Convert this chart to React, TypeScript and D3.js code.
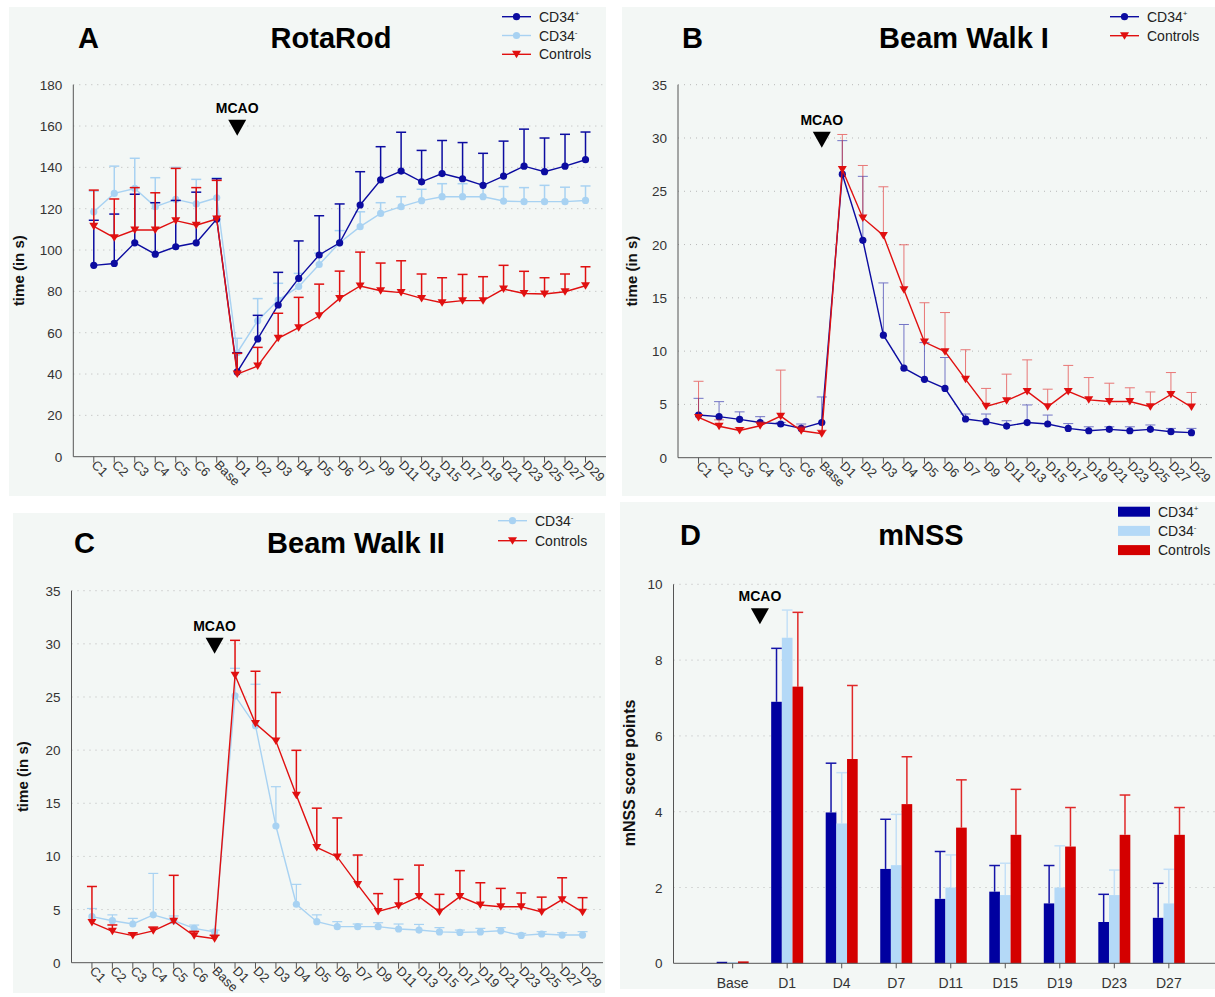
import React from 'react';
import * as d3 from 'd3';

// ---- data ----
const timepoints = ["C1", "C2", "C3", "C4", "C5", "C6", "Base", "D1", "D2", "D3", "D4", "D5", "D6", "D7", "D9", "D11", "D13", "D15", "D17", "D19", "D21", "D23", "D25", "D27", "D29"];

// RotaRod (s)
const rotaPosMean = [92.6, 93.5, 103.5, 98, 101.6, 103.5, 115, 41, 57, 73.4, 86.3, 97.6, 103.5, 121.8, 133.9, 138.2, 133, 137, 134.5, 131.3, 135.8, 140.6, 137.9, 140.6, 143.7];
const rotaPosSD = [21.8, 23.9, 23.5, 24.9, 22.4, 24.5, 19.5, 9.3, 11.4, 15.8, 18.1, 19, 18.8, 16.1, 16.1, 18.8, 15.2, 16, 17.5, 15.5, 16.9, 17.9, 16.3, 15.4, 13.4];
const rotaNegMean = [118.5, 127.4, 129.8, 121, 124.5, 122.3, 125.3, 50.3, 65.8, 75.8, 82.3, 93, 103.5, 111.3, 117.7, 121, 123.9, 125.8, 125.8, 125.8, 123.7, 123.4, 123.4, 123.4, 124];
const rotaNegSD = [10, 13.2, 14.6, 14, 15.5, 11.9, 9.7, 7, 10.7, 8.1, 6.4, 5.5, 5.9, 7.2, 5.2, 4.8, 5.5, 6.3, 6.3, 6.3, 7, 6.8, 7.9, 7, 7];
const rotaCtrlMean = [111.5, 106, 109.7, 109.7, 114.2, 112, 115, 40, 43.9, 57.3, 62.4, 68.2, 76.6, 82.6, 80.3, 79.4, 76.6, 74.5, 75.5, 75.5, 81.1, 79, 78.7, 79.8, 82.7];
const rotaCtrlSD = [17.5, 18.7, 20.5, 18, 25.3, 18.2, 18.7, 10, 9, 12.1, 14.7, 15.3, 13.2, 16.4, 13.4, 15.4, 11.8, 12.1, 12.7, 11.6, 11.5, 10.7, 7.9, 8.6, 9.2];

// Beam Walk I (s)
const beamPosMean = [4.0, 3.85, 3.6, 3.3, 3.16, 2.75, 3.3, 26.6, 20.4, 11.5, 8.4, 7.35, 6.5, 3.63, 3.38, 2.97, 3.3, 3.16, 2.75, 2.53, 2.66, 2.53, 2.66, 2.44, 2.35];
const beamPosSD = [1.57, 1.41, 0.7, 0.55, 0.15, 0.41, 2.4, 3.15, 6.0, 4.9, 4.1, 3.45, 2.9, 0.47, 0.72, 0.5, 1.65, 0.84, 0.45, 0.37, 0.24, 0.37, 0.41, 0.31, 0.4];
// Beam Walk II (s)
const beamNegMean = [4.33, 3.95, 3.64, 4.5, 3.95, 3.23, 2.9, 25.1, 22.3, 12.86, 5.5, 3.86, 3.39, 3.39, 3.39, 3.17, 3.07, 2.9, 2.85, 2.9, 3.0, 2.57, 2.7, 2.6, 2.6];
const beamNegSD = [0.77, 0.55, 0.53, 3.9, 0.45, 0.31, 0.17, 2.6, 3.9, 3.7, 1.87, 0.64, 0.47, 0.25, 0.37, 0.47, 0.53, 0.4, 0.22, 0.33, 0.3, 0.19, 0.22, 0.22, 0.32];
// controls, shown in both beam walk panels
const beamCtrlMean = [3.78, 2.95, 2.55, 3.0, 3.9, 2.53, 2.25, 27.05, 22.5, 20.85, 15.75, 10.85, 9.95, 7.35, 4.82, 5.35, 6.22, 4.78, 6.22, 5.43, 5.27, 5.27, 4.78, 5.93, 4.75];
const beamCtrlSD = [3.39, 0.6, 0.25, 0.35, 4.32, 0.42, 0.33, 3.28, 4.92, 4.57, 4.23, 3.69, 3.67, 2.78, 1.68, 2.49, 2.96, 1.65, 2.44, 2.09, 1.72, 1.29, 1.39, 2.06, 1.37];

// mNSS
const mnssDays = ["Base", "D1", "D4", "D7", "D11", "D15", "D19", "D23", "D27"];
const mnssPos = [0.04, 6.9, 3.98, 2.49, 1.7, 1.89, 1.58, 1.09, 1.2];
const mnssPosSD = [0, 1.41, 1.3, 1.31, 1.25, 0.69, 1.0, 0.73, 0.91];
const mnssNeg = [0.03, 8.59, 3.69, 2.59, 2.0, 1.8, 2.0, 1.8, 1.58];
const mnssNegSD = [0, 0.73, 1.34, 1.34, 0.86, 0.84, 1.1, 0.66, 0.9];
const mnssCtrl = [0.05, 7.3, 5.39, 4.2, 3.58, 3.39, 3.08, 3.39, 3.39];
const mnssCtrlSD = [0, 1.96, 1.94, 1.25, 1.26, 1.2, 1.03, 1.05, 0.72];

const FONT = "'Liberation Sans', Arial, Helvetica, sans-serif";
const BG = "#f3f7f5";
const DARK = "#0c0ca0";
const LIGHT = "#a8d2f2";
const RED = "#e01010";

const Mcao = ({ cx, ty }) => (
  <g>
    <text x={cx} y={ty} textAnchor="middle" fontFamily={FONT} fontWeight="bold" fontSize={14} fill="#000">MCAO</text>
    <path d={`M${cx - 9},${ty + 7} L${cx + 9},${ty + 7} L${cx},${ty + 23} Z`} fill="#000" />
  </g>
);

const Label = ({ name, sup, x, y }) => (
  <text x={x} y={y + 5} fontFamily={FONT} fontSize={14} fill="#222">
    {name}
    {sup ? <tspan dy={-6} fontSize={8}>{sup}</tspan> : null}
  </text>
);

const marker = (kind, color, cx, cy, key) =>
  kind === 'circle'
    ? <circle key={key} cx={cx} cy={cy} r={3.6} fill={color} />
    : <path key={key} d={`M${cx - 4.5},${cy - 3.5} L${cx + 4.5},${cy - 3.5} L${cx},${cy + 4} Z`} fill={color} />;

function LinePanel({ box, x0, x1, yTop, yBottom, yMax, yStep, letter, letterX, title, titleX, titleY, series, legend, mcaoAt, mcaoY, yTitleX, errOpacity }) {
  const x = d3.scalePoint().domain(timepoints).range([x0, x1]).padding(1);
  const y = d3.scaleLinear().domain([0, yMax]).range([yBottom, yTop]);
  const ticks = d3.range(0, yMax + 0.001, yStep);
  const line = d3.line<number>().x((d, i) => x(timepoints[i])).y(d => y(d));
  return (
    <g>
      <rect x={box[0]} y={box[1]} width={box[2] - box[0]} height={box[3] - box[1]} fill={BG} />
      {ticks.filter(t => t > 0).map(t => (
        <line key={t} x1={x0} x2={x1} y1={y(t)} y2={y(t)} stroke="#b8b8b8" strokeWidth={1} strokeDasharray="1,5" />
      ))}
      {ticks.map(t => (
        <text key={t} x={x0 - 11} y={y(t) + 5} textAnchor="end" fontFamily={FONT} fontSize={13.5} fill="#333">{t}</text>
      ))}
      <line x1={x0} x2={x0} y1={yTop} y2={yBottom} stroke="#555" />
      <line x1={x0} x2={x1} y1={yBottom} y2={yBottom} stroke="#555" />
      {timepoints.map(t => (
        <g key={t}>
          <line x1={x(t)} x2={x(t)} y1={yBottom} y2={yBottom + 6} stroke="#555" />
          <text transform={`translate(${x(t) - 3},${yBottom + 9}) rotate(45)`} fontFamily={FONT} fontSize={13} fill="#333">{t}</text>
        </g>
      ))}
      {series.map(s => (
        <g key={s.name + s.sup}>
          {s.mean.map((m, i) => {
            const cx = x(timepoints[i]);
            const top = y(m + s.sd[i]);
            return (
              <g key={i} stroke={s.color} strokeWidth={s.errWidth} opacity={errOpacity}>
                <line x1={cx} x2={cx} y1={y(m)} y2={top} />
                <line x1={cx - 5} x2={cx + 5} y1={top} y2={top} />
              </g>
            );
          })}
          <path d={line(s.mean)} fill="none" stroke={s.color} strokeWidth={1.4} />
          {s.mean.map((m, i) => marker(s.marker, s.color, x(timepoints[i]), y(m), i))}
        </g>
      ))}
      <Mcao cx={x(mcaoAt)} ty={yTop + mcaoY} />
      <text x={letterX} y={titleY} fontFamily={FONT} fontWeight="bold" fontSize={29} fill="#000">{letter}</text>
      <text x={titleX} y={titleY} textAnchor="middle" fontFamily={FONT} fontWeight="bold" fontSize={29} fill="#000">{title}</text>
      <text transform={`translate(${yTitleX},${(yTop + yBottom) / 2}) rotate(-90)`} textAnchor="middle" fontFamily={FONT} fontWeight="bold" fontSize={15} fill="#111">time (in s)</text>
      {series.map((s, i) => {
        const ly = legend.y0 + s.lg * legend.dy;
        return (
          <g key={'lg' + i}>
            <line x1={legend.x} x2={legend.x + 29} y1={ly} y2={ly} stroke={s.color} strokeWidth={1.4} />
            {marker(s.marker, s.color, legend.x + 14.5, ly, 'm')}
            <Label name={s.name} sup={s.sup} x={legend.x + 37} y={ly} />
          </g>
        );
      })}
    </g>
  );
}

function BarPanel() {
  const x0 = 673.5, x1 = 1228, yTop = 584.3, yBottom = 963.3;
  const x = d3.scaleBand().domain(mnssDays).range([x0, x1]).paddingInner(0).paddingOuter(0.585);
  const y = d3.scaleLinear().domain([0, 10]).range([yBottom, yTop]);
  const groups = [
    { name: 'CD34', sup: '+', color: '#0000a0', err: '#1414a8', vals: mnssPos, sd: mnssPosSD },
    { name: 'CD34', sup: '-', color: '#b4d9f7', err: '#c4e0f7', vals: mnssNeg, sd: mnssNegSD },
    { name: 'Controls', sup: '', color: '#d40000', err: '#e02828', vals: mnssCtrl, sd: mnssCtrlSD },
  ];
  const inner = d3.scaleBand().domain(['0', '1', '2']).range([0, 32]);
  const ticks = d3.range(0, 10.001, 2);
  return (
    <g>
      <rect x={620} y={502} width={595} height={487} fill={BG} />
      {ticks.filter(t => t > 0).map(t => (
        <line key={t} x1={x0} x2={1215} y1={y(t)} y2={y(t)} stroke="#b8b8b8" strokeDasharray="1,5" />
      ))}
      {ticks.map(t => (
        <text key={t} x={x0 - 11} y={y(t) + 5} textAnchor="end" fontFamily={FONT} fontSize={13.5} fill="#333">{t}</text>
      ))}
      {mnssDays.map((d, i) => {
        const gx = x(d) + (x.bandwidth() - 32) / 2;
        return (
          <g key={d}>
            {groups.map((g, j) => {
              const bx = gx + inner(String(j));
              const bw = inner.bandwidth();
              const top = y(g.vals[i]);
              const et = y(g.vals[i] + g.sd[i]);
              return (
                <g key={j}>
                  {g.sd[i] > 0 && (
                    <g stroke={g.err} strokeWidth={1.5}>
                      <line x1={bx + bw / 2} x2={bx + bw / 2} y1={top} y2={et} />
                      <line x1={bx} x2={bx + bw} y1={et} y2={et} />
                    </g>
                  )}
                  <rect x={bx} y={top} width={bw} height={yBottom - top} fill={g.color} />
                </g>
              );
            })}
            <line x1={x(d) + x.bandwidth() / 2} x2={x(d) + x.bandwidth() / 2} y1={yBottom} y2={yBottom + 5} stroke="#555" />
            <text x={x(d) + x.bandwidth() / 2} y={988} textAnchor="middle" fontFamily={FONT} fontSize={14} fill="#333">{d}</text>
          </g>
        );
      })}
      <line x1={x0} x2={x0} y1={yTop} y2={yBottom} stroke="#555" />
      <line x1={x0} x2={1215} y1={yBottom} y2={yBottom} stroke="#555" />
      <Mcao cx={(x('Base') + x('D1')) / 2 + x.bandwidth() / 2} ty={yTop + 17} />
      <text x={680} y={545} fontFamily={FONT} fontWeight="bold" fontSize={29} fill="#000">D</text>
      <text x={921} y={545} textAnchor="middle" fontFamily={FONT} fontWeight="bold" fontSize={29} fill="#000">mNSS</text>
      <text transform={`translate(${635},${773}) rotate(-90)`} textAnchor="middle" fontFamily={FONT} fontWeight="bold" fontSize={16} fill="#111">mNSS score points</text>
      {groups.map((g, i) => {
        const ly = 511.7 + i * 19.2;
        return (
          <g key={'lg' + i}>
            <rect x={1118} y={ly - 5} width={32} height={10} fill={g.color} />
            <Label name={g.name} sup={g.sup} x={1158} y={ly} />
          </g>
        );
      })}
    </g>
  );
}

export default function App() {
  const pos = { name: 'CD34', sup: '+', color: DARK, marker: 'circle', errWidth: 1.5 };
  const neg = { name: 'CD34', sup: '-', color: LIGHT, marker: 'circle', errWidth: 1.5 };
  const ctrl = { name: 'Controls', sup: '', color: RED, marker: 'tri', errWidth: 1.5 };
  return (
    <svg width={1215} height={997} style={{ position: 'absolute', left: 0, top: 0, background: '#fff' }}>
      <LinePanel
        box={[9, 7, 606, 496]} x0={73.3} x1={606} yTop={84.7} yBottom={456.7} yMax={180} yStep={20}
        letter="A" letterX={78} title="RotaRod" titleX={331} titleY={48}
        series={[{ ...neg, lg: 1, mean: rotaNegMean, sd: rotaNegSD }, { ...pos, lg: 0, mean: rotaPosMean, sd: rotaPosSD }, { ...ctrl, lg: 2, mean: rotaCtrlMean, sd: rotaCtrlSD }]}
        legend={{ x: 502, y0: 16.7, dy: 18.8 }}
        mcaoAt="D1" mcaoY={28} yTitleX={24} errOpacity={1}
      />
      <LinePanel
        box={[622, 7, 1215, 496]} x0={678} x1={1212} yTop={84.7} yBottom={457.7} yMax={35} yStep={5}
        letter="B" letterX={682} title="Beam Walk I" titleX={964} titleY={48}
        series={[{ ...pos, lg: 0, mean: beamPosMean, sd: beamPosSD, errWidth: 1 }, { ...ctrl, lg: 1, mean: beamCtrlMean, sd: beamCtrlSD, errWidth: 1 }]}
        legend={{ x: 1110, y0: 16.7, dy: 19 }}
        mcaoAt="Base" mcaoY={40} yTitleX={637} errOpacity={0.55}
      />
      <LinePanel
        box={[13, 513, 605, 993]} x0={71.5} x1={603} yTop={590.7} yBottom={962.7} yMax={35} yStep={5}
        letter="C" letterX={74} title="Beam Walk II" titleX={356} titleY={553}
        series={[{ ...neg, lg: 0, mean: beamNegMean, sd: beamNegSD, errWidth: 1.2 }, { ...ctrl, lg: 1, mean: beamCtrlMean, sd: beamCtrlSD }]}
        legend={{ x: 498, y0: 520.7, dy: 20 }}
        mcaoAt="Base" mcaoY={40} yTitleX={28} errOpacity={1}
      />
      <BarPanel />
    </svg>
  );
}
